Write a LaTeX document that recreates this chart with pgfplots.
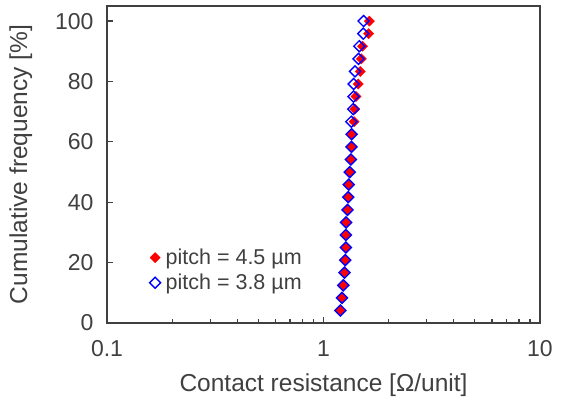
\documentclass[border=0pt]{standalone}
\usepackage{pgfplots}
\pgfplotsset{compat=1.18}
\usepackage{fontspec}
\setmainfont{Liberation Sans}
\definecolor{axgray}{HTML}{404040}

% cumulative frequency [%] vs contact resistance [Ohm/unit]
\pgfplotstableread{
y      r
4.17   1.197
8.33   1.217
12.50  1.234
16.67  1.251
20.83  1.260
25.00  1.268
29.17  1.268
33.33  1.272
37.50  1.291
41.67  1.301
45.83  1.308
50.00  1.322
54.17  1.339
58.33  1.348
62.50  1.350
66.67  1.385
70.83  1.395
75.00  1.413
79.17  1.447
83.33  1.479
87.50  1.495
91.67  1.516
95.83  1.616
100.00 1.628
}\pitchA
\pgfplotstableread{
y      r
4.17   1.197
8.33   1.217
12.50  1.234
16.67  1.251
20.83  1.260
25.00  1.268
29.17  1.268
33.33  1.272
37.50  1.291
41.67  1.301
45.83  1.308
50.00  1.322
54.17  1.339
58.33  1.348
62.50  1.348
66.67  1.344
70.83  1.373
75.00  1.377
79.17  1.377
83.33  1.398
87.50  1.452
91.67  1.463
95.83  1.527
100.00 1.532
}\pitchB

\begin{document}
\begin{tikzpicture}
\useasboundingbox (-107pt,-82pt) rectangle (458pt,323pt);
\begin{axis}[
    scale only axis,
    width=433pt, height=317pt,
    xmode=log,
    xmin=0.1, xmax=10,
    ymin=0, ymax=105,
    xtick={0.1,1,10},
    xticklabels={0.1,1,10},
    ytick={0,20,40,60,80,100},
    xtick pos=bottom, ytick pos=left,
    tick align=inside,
    major tick length=6pt, minor tick length=4.5pt,
    axis line style={axgray, line width=1.5pt},
    every tick/.style={axgray, line width=1.2pt},
    tick label style={font=\fontsize{23}{27}\selectfont, text=axgray},
    x tick label style={yshift=-14pt},
    y tick label style={xshift=-10pt},
    label style={font=\fontsize{24.5}{28}\selectfont, text=axgray},
    /pgf/number format/assume math mode=true,
    xlabel={Contact resistance [Ω/unit]},
    ylabel={Cumulative frequency [\%]},
    xlabel style={yshift=-10pt},
    ylabel style={yshift=16pt},
    legend style={at={(0.098,0.24)}, anchor=north west, draw=none, fill=none,
        font=\fontsize{21.5}{25}\selectfont, text=axgray,
        row sep=4pt, inner sep=0pt,
        /tikz/every odd column/.append style={column sep=3pt}},
    legend cell align=left,
    legend image code/.code={\draw[#1] (0pt,0pt) plot coordinates {(0pt,0pt)};},
]
\addplot[only marks, mark=square*, mark size=3.6pt,
    mark options={rotate=45, fill=red, draw=red}]
    table[x=r, y=y] {\pitchA};
\addlegendentry{pitch = 4.5 µm}
\addplot[only marks, mark=square, mark size=3.9pt,
    mark options={rotate=45, draw=blue, line width=1.4pt, fill=none}]
    table[x=r, y=y] {\pitchB};
\addlegendentry{pitch = 3.8 µm}
\end{axis}
\end{tikzpicture}
\end{document}
